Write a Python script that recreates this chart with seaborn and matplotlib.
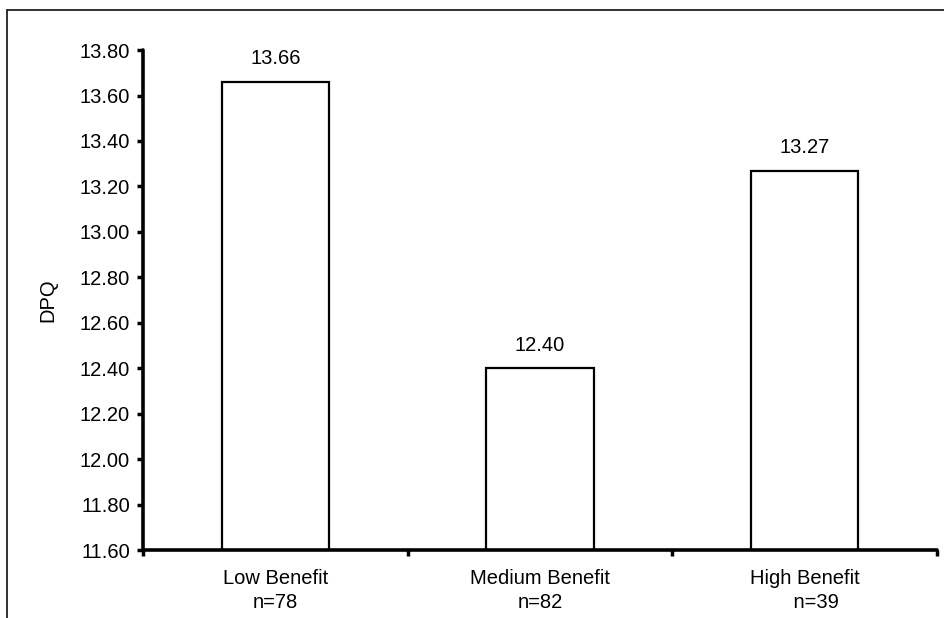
import matplotlib
matplotlib.use("Agg")
import matplotlib.pyplot as plt
import seaborn as sns
import pandas as pd
from matplotlib.lines import Line2D

# %% data
groups = ["Low Benefit", "Medium Benefit", "High Benefit"]
counts = ["n=78", "n=82", "    n=39"]
dpq = [13.66, 12.40, 13.27]
yticks = [11.6 + 0.2 * i for i in range(12)]

df = pd.DataFrame({"group": groups, "dpq": dpq})

# %% plot
sns.set_style("white")
plt.rcParams["font.family"] = ["Liberation Sans", "DejaVu Sans"]
plt.rcParams["font.size"] = 14.5
plt.rcParams["text.color"] = "black"
plt.rcParams["axes.labelcolor"] = "black"
plt.rcParams["xtick.color"] = "black"
plt.rcParams["ytick.color"] = "black"

fig = plt.figure(figsize=(9.44, 6.18), dpi=100)
ax = fig.add_axes([0.1515, 0.110, 0.841, 0.809])

sns.barplot(data=df, x="group", y="dpq", color="white", edgecolor="black",
            linewidth=1.6, width=0.405, ax=ax, zorder=1)

ax.set_ylim(11.6, 13.8)
ax.set_xlim(-0.5, 2.5)
ax.set_yticks(yticks)
ax.set_yticklabels([f"{t:.2f}" for t in yticks])

# category labels with counts underneath; ticks sit between categories
ax.set_xticks(range(len(groups)))
ax.set_xticklabels([f"{g}\n{c}" for g, c in zip(groups, counts)], linespacing=1.32)
ax.tick_params(axis="x", which="major", bottom=True, length=0, pad=14)
ax.set_xticks([-0.5, 0.5, 1.5, 2.5], minor=True)
ax.tick_params(axis="x", which="minor", bottom=True, length=4.5, width=2.5,
               direction="out", color="black")
ax.tick_params(axis="y", left=True, length=4.5, width=2.5, direction="out",
               color="black", pad=5)

for s in ["top", "right"]:
    ax.spines[s].set_visible(False)
for s in ["left", "bottom"]:
    ax.spines[s].set_linewidth(2.6)
    ax.spines[s].set_color("black")
    ax.spines[s].set_capstyle("round")

ax.set_xlabel("")
ax.set_ylabel("DPQ", labelpad=16)

for i, v in enumerate(dpq):
    ax.text(i, v + 0.06, f"{v:.2f}", ha="center", va="bottom", color="black")

# outer frame (top and left edges visible in the crop)
fig.add_artist(Line2D([0.0074, 1.0], [0.984, 0.984], transform=fig.transFigure, color="#222222", lw=1.3))
fig.add_artist(Line2D([0.0074, 0.0074], [0.0, 0.984], transform=fig.transFigure, color="#222222", lw=1.3))

fig.savefig("out.png", dpi=100)
